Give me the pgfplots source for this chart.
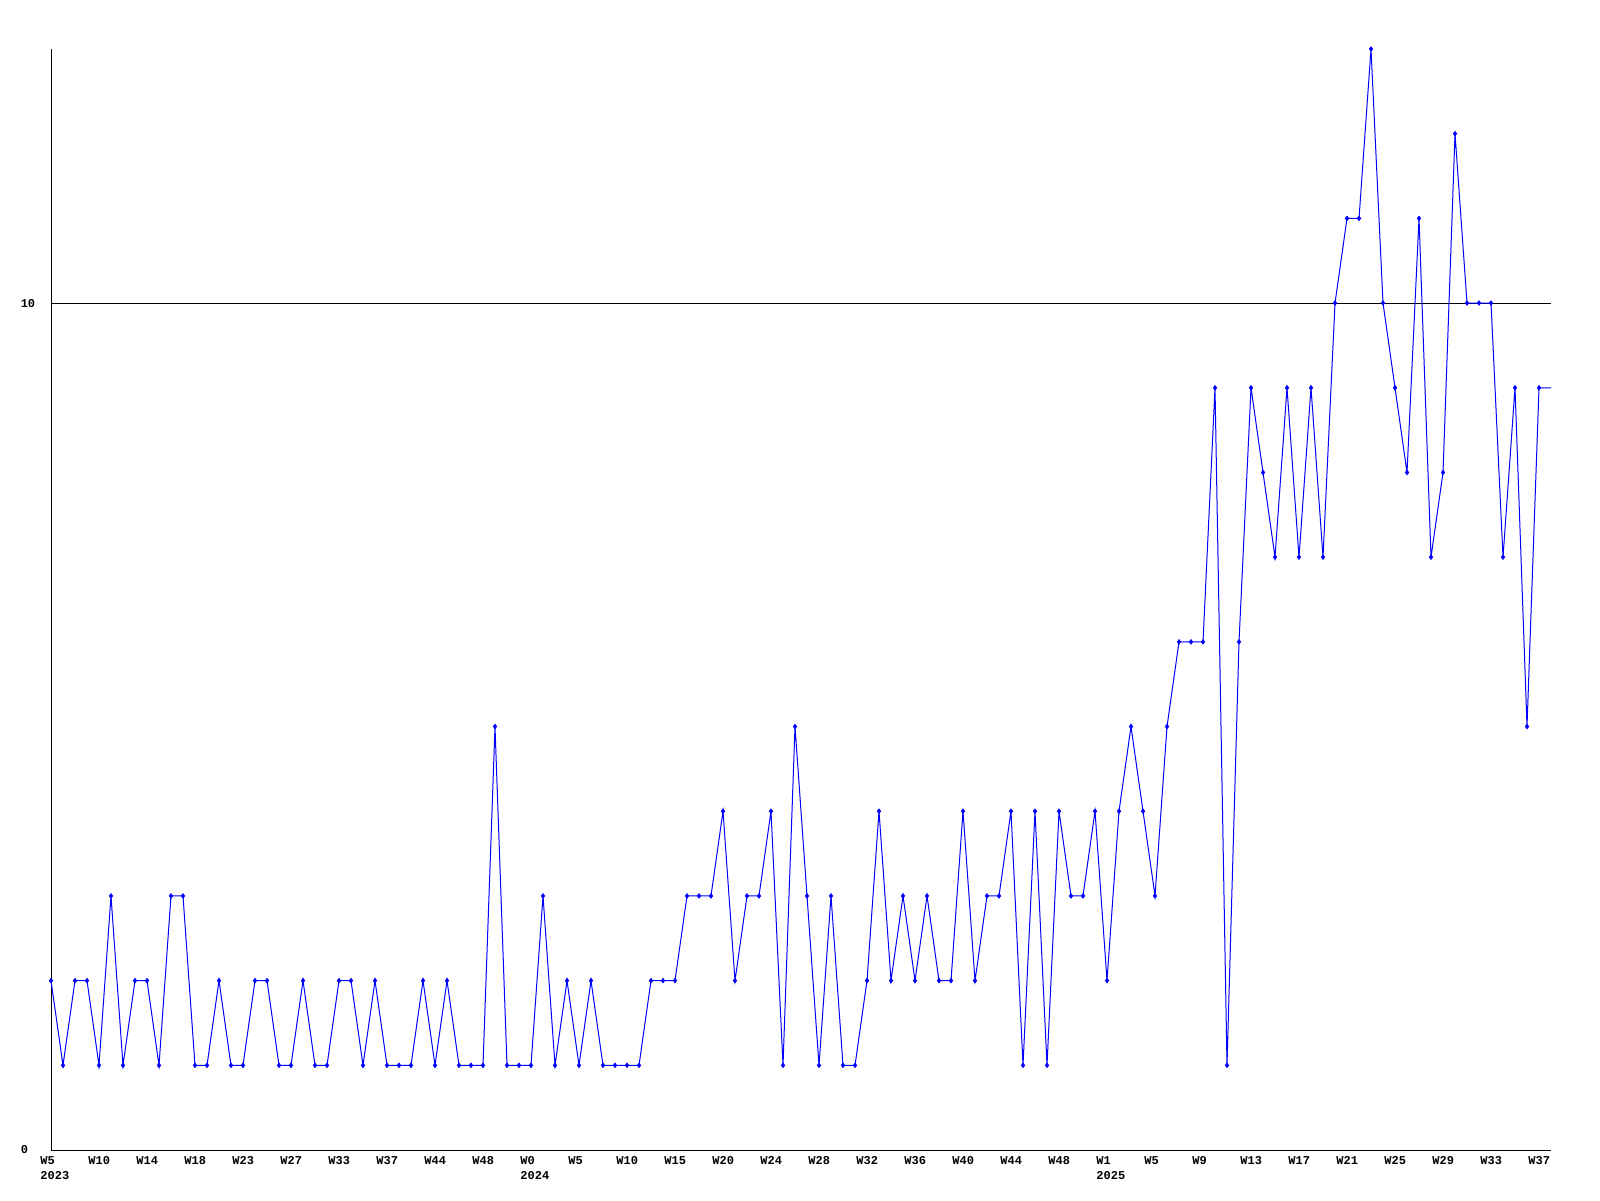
\documentclass[border=0pt]{standalone}
\usepackage{pgfplots}
\pgfplotsset{compat=1.18}
\usepackage{fontspec}
\setmainfont{Liberation Mono}
\definecolor{lineblue}{RGB}{0,0,255}
\newcommand{\yl}[2]{\makebox[0pt][l]{\raisebox{-7.6pt}[0pt][0pt]{#2}}#1}
\begin{document}
\begin{tikzpicture}
\useasboundingbox (0,0) rectangle (800pt,600pt);
\begin{axis}[
  at={(25.5pt,25pt)}, anchor=south west,
  scale only axis, width=750pt, height=550.5pt,
  xmin=0, xmax=125, ymin=0, ymax=13,
  axis x line*=bottom, axis y line*=left,
  axis line style={black, line width=0.5pt, -},
  clip=false,
  major tick length=0pt,
  ytick={0,10},
  ymajorgrids, grid style={black, line width=0.5pt},
  xtick={0,4,...,124},
  xticklabels={\yl{W5}{2023},W10,W14,W18,W23,W27,W33,W37,W44,W48,\yl{W0}{2024},W5,W10,W15,W20,W24,W28,W32,W36,W40,W44,W48,\yl{W1}{2025},W5,W9,W13,W17,W21,W25,W29,W33,W37},
  every tick label/.append style={font=\bfseries\fontsize{6}{7}\selectfont, inner sep=0pt},
  xticklabel style={anchor=north west, xshift=-5.5pt, yshift=-3pt, text height=4pt, text depth=0pt},
  yticklabel style={anchor=west, xshift=-15.3pt},
  /pgf/number format/assume math mode=true,
]
\addplot[lineblue, line width=0.5pt, no marks] coordinates {
(0,2)(1,1)(2,2)(3,2)(4,1)(5,3)(6,1)(7,2)(8,2)(9,1)(10,3)(11,3)(12,1)(13,1)(14,2)(15,1)(16,1)(17,2)(18,2)(19,1)
(20,1)(21,2)(22,1)(23,1)(24,2)(25,2)(26,1)(27,2)(28,1)(29,1)(30,1)(31,2)(32,1)(33,2)(34,1)(35,1)(36,1)(37,5)(38,1)(39,1)
(40,1)(41,3)(42,1)(43,2)(44,1)(45,2)(46,1)(47,1)(48,1)(49,1)(50,2)(51,2)(52,2)(53,3)(54,3)(55,3)(56,4)(57,2)(58,3)(59,3)
(60,4)(61,1)(62,5)(63,3)(64,1)(65,3)(66,1)(67,1)(68,2)(69,4)(70,2)(71,3)(72,2)(73,3)(74,2)(75,2)(76,4)(77,2)(78,3)(79,3)
(80,4)(81,1)(82,4)(83,1)(84,4)(85,3)(86,3)(87,4)(88,2)(89,4)(90,5)(91,4)(92,3)(93,5)(94,6)(95,6)(96,6)(97,9)(98,1)(99,6)
(100,9)(101,8)(102,7)(103,9)(104,7)(105,9)(106,7)(107,10)(108,11)(109,11)(110,13)(111,10)(112,9)(113,8)(114,11)(115,7)(116,8)(117,12)(118,10)(119,10)
(120,10)(121,7)(122,9)(123,5)(124,9)(125,9)
};
\addplot[lineblue, only marks, mark=diamond*, mark size=1.1pt, mark options={fill=lineblue, draw=lineblue}] coordinates {
(0,2)(1,1)(2,2)(3,2)(4,1)(5,3)(6,1)(7,2)(8,2)(9,1)(10,3)(11,3)(12,1)(13,1)(14,2)(15,1)(16,1)(17,2)(18,2)(19,1)
(20,1)(21,2)(22,1)(23,1)(24,2)(25,2)(26,1)(27,2)(28,1)(29,1)(30,1)(31,2)(32,1)(33,2)(34,1)(35,1)(36,1)(37,5)(38,1)(39,1)
(40,1)(41,3)(42,1)(43,2)(44,1)(45,2)(46,1)(47,1)(48,1)(49,1)(50,2)(51,2)(52,2)(53,3)(54,3)(55,3)(56,4)(57,2)(58,3)(59,3)
(60,4)(61,1)(62,5)(63,3)(64,1)(65,3)(66,1)(67,1)(68,2)(69,4)(70,2)(71,3)(72,2)(73,3)(74,2)(75,2)(76,4)(77,2)(78,3)(79,3)
(80,4)(81,1)(82,4)(83,1)(84,4)(85,3)(86,3)(87,4)(88,2)(89,4)(90,5)(91,4)(92,3)(93,5)(94,6)(95,6)(96,6)(97,9)(98,1)(99,6)
(100,9)(101,8)(102,7)(103,9)(104,7)(105,9)(106,7)(107,10)(108,11)(109,11)(110,13)(111,10)(112,9)(113,8)(114,11)(115,7)(116,8)(117,12)(118,10)(119,10)
(120,10)(121,7)(122,9)(123,5)(124,9)
};
\end{axis}
\end{tikzpicture}
\end{document}
